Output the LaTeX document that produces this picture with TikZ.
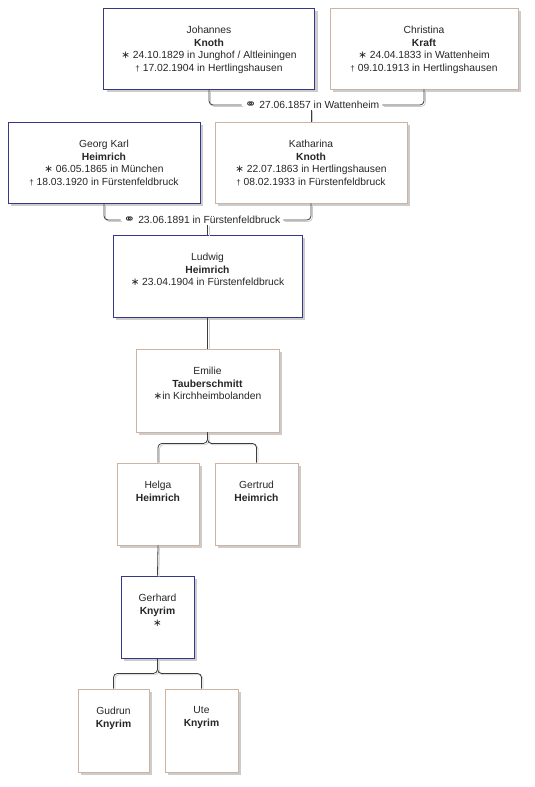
\documentclass[tikz,border=0pt]{standalone}
\usepackage{fontspec}
\setmainfont{Liberation Sans}
\newfontfamily\symfont{DejaVu Sans}
\definecolor{mancol}{RGB}{55,55,135}
\definecolor{womancol}{RGB}{205,180,162}
\definecolor{linecol}{RGB}{60,60,60}
\newcommand{\bornsym}{{\symfont ∗}}
\newcommand{\diedsym}{{\footnotesize †}}
\newcommand{\wedsym}{\smash{\scalebox{1.35}[1.2]{\symfont ⚭}}}
\tikzset{
  person/.style={draw, line width=0.85pt, fill=white, inner sep=0pt},
  man/.style={person, draw=mancol},
  woman/.style={person, draw=womancol},
  shade/.style={fill=gray!40},
  lbl/.style={anchor=north, align=center, inner sep=0pt, text=black!85,
    font=\fontsize{10.3}{12.8}\selectfont},
  wed/.style={inner xsep=3pt, inner ysep=1pt, text=black!85,
    font=\fontsize{10.3}{12.4}\selectfont},
  conn/.style={draw=linecol, line width=0.8pt, rounded corners=4pt,
    preaction={draw=gray!40, line width=0.8pt,
      transform canvas={shift={(1.4pt,-1.4pt)}}}}
}
\begin{document}
\begin{tikzpicture}[x=1pt, y=-1pt]
  \useasboundingbox (0,0) rectangle (535,787);
  %% ── Persons: name / centre x / centre y / width / height / kind / text ──
  \foreach \id/\cx/\cy/\w/\h/\kind/\txt in {
    jo/209/48.5/211/81/man/{Johannes\\\textbf{Knoth}\\\bornsym\ 24.10.1829 in Junghof / Altleiningen\\\diedsym\ 17.02.1904 in Hertlingshausen},
    ch/424/48.5/188/81/woman/{Christina\\\textbf{Kraft}\\\bornsym\ 24.04.1833 in Wattenheim\\\diedsym\ 09.10.1913 in Hertlingshausen},
    gk/104/162.5/192/81/man/{Georg Karl\\\textbf{Heimrich}\\\bornsym\ 06.05.1865 in München\\\diedsym\ 18.03.1920 in Fürstenfeldbruck},
    ka/311/162.5/192/81/woman/{Katharina\\\textbf{Knoth}\\\bornsym\ 22.07.1863 in Hertlingshausen\\\diedsym\ 08.02.1933 in Fürstenfeldbruck},
    lu/207.5/276/189/82/man/{Ludwig\\\textbf{Heimrich}\\\bornsym\ 23.04.1904 in Fürstenfeldbruck},
    em/207.5/390.5/143/83/woman/{Emilie\\\textbf{Tauberschmitt}\\\bornsym in Kirchheimbolanden},
    he/158/504/82/82/woman/{Helga\\\textbf{Heimrich}},
    ge/256.5/504/83/82/woman/{Gertrud\\\textbf{Heimrich}},
    gh/157.5/617/73/82/man/{Gerhard\\\textbf{Knyrim}\\\bornsym},
    gu/113.5/730.5/71/83/woman/{Gudrun\\\textbf{Knyrim}},
    ut/201.5/730.5/73/83/woman/{Ute\\\textbf{Knyrim}}}{
    %% shadow first, then the box on top
    \fill[shade] ({\cx-\w/2+3}, {\cy-\h/2+3}) rectangle ++(\w,\h);
    \node[\kind, minimum width=\w pt, minimum height=\h pt] (\id) at (\cx,\cy) {};
    \node[lbl] (\id-t) at ([yshift=-18pt]\id.north) {\txt};
  }
  %% ── Marriages ──────────────────────────────────────────────
  \node[wed] (m1) at (312,105) {\wedsym\ 27.06.1857 in Wattenheim};
  \draw[conn] (jo.south) |- (m1.west);
  \draw[conn] (ch.south) |- (m1.east);
  \draw[conn] (m1.south -| ka.north) -- (ka.north);
  \node[wed] (m2) at (202,220) {\wedsym\ 23.06.1891 in Fürstenfeldbruck};
  \draw[conn] (gk.south) |- (m2.west);
  \draw[conn] (ka.south) |- (m2.east);
  \draw[conn] (m2.south -| lu.north) -- (lu.north);
  %% ── Descent ────────────────────────────────────────────────
  \draw[conn] (lu.south) -- (em.north);
  \coordinate (em-f) at ([yshift=-11pt]em.south);
  \draw[conn] (em.south) -- (em-f) -| (he.north);
  \draw[conn] (em.south) -- (em-f) -| (ge.north);
  \draw[conn] (he.south) -- (gh.north);
  \coordinate (gh-f) at ([yshift=-15pt]gh.south);
  \draw[conn] (gh.south) -- (gh-f) -| (gu.north);
  \draw[conn] (gh.south) -- (gh-f) -| (ut.north);
\end{tikzpicture}
\end{document}
